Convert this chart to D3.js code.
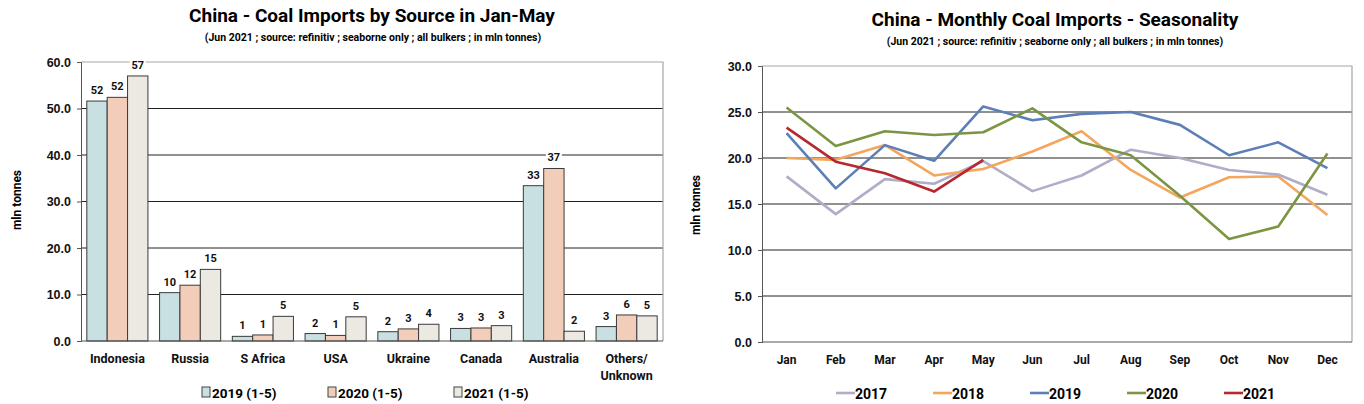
<!DOCTYPE html>
<html>
<head>
<meta charset="utf-8">
<script src="https://cdn.jsdelivr.net/npm/d3@7"></script>
<style>
  body { margin: 0; background: #fff; }
  svg { display: block; font-family: Roboto, "Liberation Sans", sans-serif; font-weight: bold; }
</style>
</head>
<body>
<div id="chart"></div>
<script>
// left chart data (mln tonnes, Jan-May)
var sources = ["Indonesia", "Russia", "S Africa", "USA", "Ukraine", "Canada", "Australia", "Others/|Unknown"];
var barSeries = ["2019 (1-5)", "2020 (1-5)", "2021 (1-5)"];
var imp2019 = [51.6, 10.4, 1.0, 1.6, 2.0, 2.7, 33.4, 3.1];
var imp2020 = [52.4, 12.0, 1.3, 1.2, 2.6, 2.8, 37.1, 5.6];
var imp2021 = [57.0, 15.4, 5.3, 5.2, 3.6, 3.3, 2.1, 5.4];
var barTicks = [0, 10, 20, 30, 40, 50, 60];

// right chart data (monthly, mln tonnes)
var months = ["Jan", "Feb", "Mar", "Apr", "May", "Jun", "Jul", "Aug", "Sep", "Oct", "Nov", "Dec"];
var lineYears = ["2017", "2018", "2019", "2020", "2021"];
var s2017 = [18.0, 13.9, 17.7, 17.2, 19.65, 16.4, 18.1, 20.9, 20.0, 18.7, 18.2, 16.0];
var s2018 = [20.0, 19.8, 21.4, 18.1, 18.8, 20.7, 22.9, 18.7, 15.7, 17.9, 18.0, 13.8];
var s2019 = [22.7, 16.7, 21.4, 19.7, 25.6, 24.1, 24.8, 25.0, 23.6, 20.3, 21.7, 18.9];
var s2020 = [25.5, 21.3, 22.9, 22.5, 22.8, 25.4, 21.7, 20.3, 15.9, 11.2, 12.55, 20.5];
var s2021 = [23.3, 19.6, 18.35, 16.35, 19.8];
var lineTicks = [0, 5, 10, 15, 20, 25, 30];

var barColors = ["#c8e0e1", "#f2cdb9", "#ece9e3"];
var lineColors = ["#b0adc8", "#f4a65c", "#5c7fb8", "#7b9543", "#b5282d"];

var svg = d3.select("#chart").append("svg")
    .attr("width", 1364)
    .attr("height", 404);
svg.append("rect").attr("width", 1364).attr("height", 404).attr("fill", "#fff");

var fmt = d3.format(".1f");

// ---------- left: grouped bars ----------
var L = {left: 81, right: 663, top: 62, bottom: 341};
var g1 = svg.append("g");

var x0 = d3.scaleBand().domain(sources).range([L.left, L.right]).paddingInner(0.16).paddingOuter(0.08);
var x1 = d3.scaleBand().domain(barSeries).range([0, x0.bandwidth()]);
var y1 = d3.scaleLinear().domain([0, 60]).range([L.bottom, L.top]);

g1.append("text").attr("x", 372).attr("y", 22).attr("text-anchor", "middle")
    .attr("font-size", 19).text("China - Coal Imports by Source in Jan-May");
g1.append("text").attr("x", 373).attr("y", 41).attr("text-anchor", "middle")
    .attr("font-size", 10.5).text("(Jun 2021 ; source: refinitiv ; seaborne only ; all bulkers ; in mln tonnes)");

// grid
g1.selectAll("line.grid").data(barTicks.slice(1, -1)).enter().append("line")
    .attr("x1", L.left).attr("x2", L.right)
    .attr("y1", function(d){ return y1(d); }).attr("y2", function(d){ return y1(d); })
    .attr("stroke", "#222").attr("stroke-width", 1);
g1.append("path")
    .attr("d", "M" + L.left + "," + L.top + "H" + L.right + "V" + L.bottom)
    .attr("fill", "none").attr("stroke", "#a6a6a6").attr("stroke-width", 1.2);

var yAx1 = g1.append("g").attr("transform", "translate(" + L.left + ",0)")
    .call(d3.axisLeft(y1).tickValues(barTicks).tickFormat(fmt).tickSize(4).tickPadding(6));
yAx1.select(".domain").attr("stroke", "#555");
yAx1.selectAll(".tick line").attr("stroke", "#555");
yAx1.selectAll("text").attr("font-size", 12.5).attr("font-family", null).attr("fill", "#111");

var series = [imp2019, imp2020, imp2021];
var groups = g1.selectAll("g.src").data(sources).enter().append("g")
    .attr("class", "src")
    .attr("transform", function(d){ return "translate(" + x0(d) + ",0)"; });

groups.each(function(s, i){
    var grp = d3.select(this);
    barSeries.forEach(function(k, j){
        var v = series[j][i];
        grp.append("rect")
            .attr("x", x1(k)).attr("width", x1.bandwidth())
            .attr("y", y1(v)).attr("height", y1(0) - y1(v))
            .attr("fill", barColors[j]).attr("stroke", "#3a3a3a").attr("stroke-width", 1);
        var lbl = Math.round(v);
        grp.append("rect")
            .attr("x", x1(k) + x1.bandwidth() / 2 - 8).attr("y", y1(v) - 18)
            .attr("width", 16).attr("height", 13).attr("fill", "#fff");
        grp.append("text")
            .attr("x", x1(k) + x1.bandwidth() / 2).attr("y", y1(v) - 7)
            .attr("text-anchor", "middle").attr("font-size", 11).attr("fill", "#111")
            .text(lbl);
    });
});

// x axis line + labels
g1.append("line").attr("x1", L.left).attr("x2", L.right)
    .attr("y1", L.bottom).attr("y2", L.bottom).attr("stroke", "#555").attr("stroke-width", 1.2);
g1.selectAll("text.cat").data(sources).enter().append("text")
    .attr("class", "cat")
    .attr("text-anchor", "middle").attr("font-size", 12.5).attr("fill", "#111")
    .each(function(d){
        var t = d3.select(this);
        d.split("|").forEach(function(part, k){
            t.append("tspan").attr("x", x0(d) + x0.bandwidth() / 2)
                .attr("y", 363 + k * 17).text(part);
        });
    });

g1.append("text").attr("transform", "translate(21,200) rotate(-90)")
    .attr("text-anchor", "middle").attr("font-size", 12).text("mln tonnes");

// legend
var leg1 = g1.selectAll("g.leg").data(barSeries).enter().append("g")
    .attr("transform", function(d, i){ return "translate(" + (202 + i * 126) + ",388)"; });
leg1.append("rect").attr("width", 8).attr("height", 10).attr("y", -1)
    .attr("fill", function(d, i){ return barColors[i]; }).attr("stroke", "#444");
leg1.append("text").attr("x", 10).attr("y", 9.5).attr("font-size", 13.5).text(function(d){ return d; });

// ---------- right: seasonality lines ----------
var R = {left: 762, right: 1352, top: 66, bottom: 342};
var g2 = svg.append("g");
var xm = d3.scalePoint().domain(months).range([R.left, R.right]).padding(0.5);
var y2 = d3.scaleLinear().domain([0, 30]).range([R.bottom, R.top]);

g2.append("text").attr("x", 1055).attr("y", 26).attr("text-anchor", "middle")
    .attr("font-size", 19).text("China - Monthly Coal Imports - Seasonality");
g2.append("text").attr("x", 1055).attr("y", 45).attr("text-anchor", "middle")
    .attr("font-size", 10.5).text("(Jun 2021 ; source: refinitiv ; seaborne only ; all bulkers ; in mln tonnes)");

g2.selectAll("line.grid").data(lineTicks.slice(1, -1)).enter().append("line")
    .attr("x1", R.left).attr("x2", R.right)
    .attr("y1", function(d){ return y2(d); }).attr("y2", function(d){ return y2(d); })
    .attr("stroke", "#222").attr("stroke-width", 1);
g2.append("path")
    .attr("d", "M" + R.left + "," + R.top + "H" + R.right + "V" + R.bottom)
    .attr("fill", "none").attr("stroke", "#a6a6a6").attr("stroke-width", 1.2);

var yAx2 = g2.append("g").attr("transform", "translate(" + R.left + ",0)")
    .call(d3.axisLeft(y2).tickValues(lineTicks).tickFormat(fmt).tickSize(4).tickPadding(6));
yAx2.select(".domain").attr("stroke", "#555");
yAx2.selectAll(".tick line").attr("stroke", "#555");
yAx2.selectAll("text").attr("font-size", 12.5).attr("font-family", null).attr("fill", "#111");

g2.append("line").attr("x1", R.left).attr("x2", R.right)
    .attr("y1", R.bottom).attr("y2", R.bottom).attr("stroke", "#555").attr("stroke-width", 1.2);
g2.selectAll("text.month").data(months).enter().append("text")
    .attr("x", function(d){ return xm(d); }).attr("y", 364)
    .attr("text-anchor", "middle").attr("font-size", 12).attr("fill", "#111")
    .text(function(d){ return d; });

g2.append("text").attr("transform", "translate(700,205) rotate(-90)")
    .attr("text-anchor", "middle").attr("font-size", 12).text("mln tonnes");

var lineData = [s2017, s2018, s2019, s2020, s2021];
var line = d3.line()
    .x(function(d, i){ return xm(months[i]); })
    .y(function(d){ return y2(d); });
g2.selectAll("path.series").data(lineData).enter().append("path")
    .attr("class", "series")
    .attr("d", line)
    .attr("fill", "none")
    .attr("stroke", function(d, i){ return lineColors[i]; })
    .attr("stroke-width", 2.6)
    .attr("stroke-linejoin", "round");

var leg2 = g2.selectAll("g.leg").data(lineYears).enter().append("g")
    .attr("transform", function(d, i){ return "translate(" + (836 + i * 97) + ",393)"; });
leg2.append("line").attr("x1", 0).attr("x2", 19).attr("y1", 0).attr("y2", 0)
    .attr("stroke", function(d, i){ return lineColors[i]; }).attr("stroke-width", 2.6);
leg2.append("text").attr("x", 19).attr("y", 5.5).attr("font-size", 14).text(function(d){ return d; });
</script>
</body>
</html>
